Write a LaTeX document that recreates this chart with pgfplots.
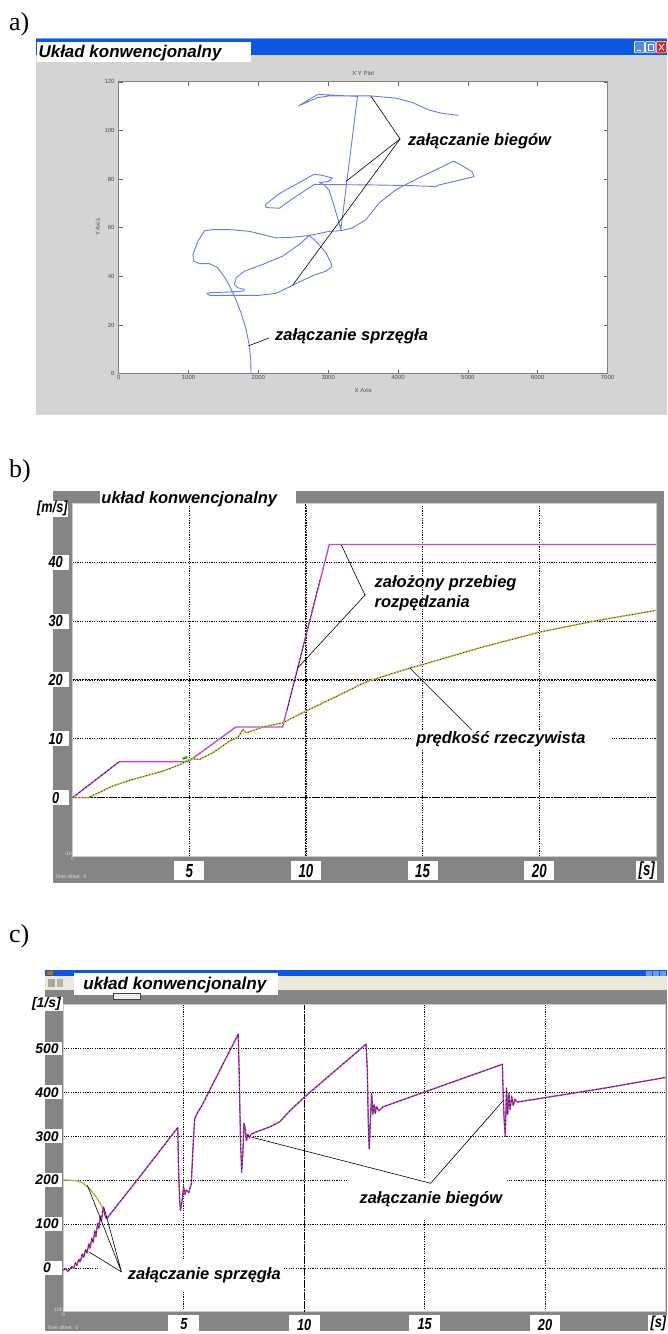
\documentclass[border=0pt]{standalone}
\usepackage{fontspec}
\setmainfont{Liberation Serif}
\newfontfamily\ar{Liberation Sans}
\newfontfamily\arn{Liberation Sans}[FakeStretch=0.8]
\newfontfamily\arnn{Liberation Sans}[FakeStretch=0.7]
\usepackage{pgfplots}
\pgfplotsset{compat=1.18}
\definecolor{xpblue}{HTML}{0A58E4}
\definecolor{winA}{HTML}{D4D4D4}
\definecolor{frameG}{HTML}{858585}
\definecolor{mag}{HTML}{C04EC0}
\definecolor{magc}{HTML}{B83CB8}
\definecolor{oliv}{HTML}{C8C24A}
\definecolor{tbar}{HTML}{ECE9D8}
\definecolor{xyblue}{HTML}{6A78F4}
\newcommand{\lab}{\ar\bfseries\itshape\fontsize{16.5}{20}\selectfont}
\newcommand{\tinyf}{\ar\fontsize{5}{5}\selectfont}
\begin{document}
\begin{tikzpicture}
\begin{scope}[x=1pt,y=-1pt]
\path[use as bounding box, fill=white] (0,0) rectangle (669,1334);
% panel a window
\fill[winA] (36,55) rectangle (669,416);
\fill[xpblue] (36,38) rectangle (669,55);
\fill[xpblue!55!white] (36,38) rectangle (669,39.5);
% panel b frame
\fill[frameG] (53,491.7) rectangle (666,885);
% panel c window
\fill[xpblue] (45,972.5) rectangle (669,978.3);
\fill[tbar] (45,978.3) rectangle (669,992);
\fill[frameG] (45,992) rectangle (669,1334);
\end{scope}

% ---------------- panel a ----------------
\begin{axis}[at={(119pt,-374.5pt)}, anchor=south west, scale only axis,
  width=490pt, height=292.5pt,
  xmin=0, xmax=7000, ymin=0, ymax=120,
  xtick={0,1000,...,7000}, ytick={0,20,...,120},
  scaled ticks=false, /pgf/number format/1000 sep={},
  /pgf/number format/assume math mode=true,
  axis background/.style={fill=white},
  axis line style={gray, line width=0.8pt},
  tick style={gray!80!black, line width=0.5pt}, major tick length=4pt, tick align=inside,
  tick label style={font=\ar\fontsize{6}{6}\selectfont, text=gray!60!black, inner sep=1pt},
  yticklabel style={xshift=-3pt}, xticklabel style={yshift=-1pt},
  clip=false]
\addplot[xyblue, line width=0.9pt, line join=round] coordinates {
(1895,0)(1890,6)(1871,11.4)(1824,18.2)(1752,25)(1657,31.9)(1538,38.7)(1419,43.5)
(1300,45.2)(1157,45.2)(1076,46.2)(1062,49)(1133,54.4)(1229,58.8)(1347,59.2)(1586,59.2)
(1871,58.5)(2062,57.2)(2252,55.8)(2490,56.1)(2729,56.8)(2824,54.4)(2967,49.7)(3038,45.6)
(3052,44)(2967,42.1)(2824,40.8)(2657,38.7)(2490,36.3)(2252,33)(2014,32.2)(1633,32.2)
(1300,32.2)(1262,33)(1324,33.3)(1538,33.5)(1776,33.9)(1800,34.6)(1704,35.3)(1657,36.7)
(1681,39.4)(1800,42.1)(2062,44.9)(2347,48.3)(2586,53.1)(2729,56.8)(3014,58.5)(3181,58.8)
(3347,59.9)(3538,63.3)(3729,70.1)(3967,75.6)(4300,80.5)(4800,87.4)(5062,83)(5086,81)
(4800,79)(4586,77.6)(4538,76.9)(4200,77.3)(3600,77.6)(2800,77.8)(2467,71.5)(2300,68)
(2110,68.3)(2100,69.5)(2300,74)(2800,82)(2919,81.5)(3062,80.4)(3000,79)(2871,78.6)
(2943,77.6)(3014,75.4)(3086,68.7)(3157,61.9)(3181,59.2)(3419,114)(3014,114.6)(2848,114.8)
(2576,110.1)(2848,113.5)(3014,114.2)(3610,114.2)(3967,113.3)(4205,111.5)(4443,108.4)
(4633,107)(4862,106.2)};
\draw[black, line width=0.6pt] (axis cs:3610,114.2) -- (axis cs:4029,96.5) -- (axis cs:3252,79);
\draw[black, line width=0.6pt] (axis cs:4029,96.5) -- (axis cs:2490,36.3);
\draw[black, line width=0.6pt] (axis cs:1857,11.4) -- (axis cs:2148,14.6);
\node[anchor=west, inner sep=0pt, font=\lab] at (axis cs:4143,95.4) {załączanie biegów};
\node[anchor=west, inner sep=0pt, font=\lab] at (axis cs:2237,15.5) {załączanie sprzęgła};
\end{axis}

% ---------------- panel b ----------------
\begin{axis}[at={(72.8pt,-858.5pt)}, anchor=south west, scale only axis,
  width=584.7pt, height=354pt,
  xmin=0, xmax=25, ymin=-10, ymax=50,
  xtick={5,10,15,20}, ytick={0,10,20,30,40},
  grid=major, major grid style={black, line width=0.7pt, dash pattern=on 1.2pt off 1.2pt},
  axis background/.style={fill=white},
  axis line style={gray!40, line width=0.8pt},
  tick style={draw=none},
  /pgf/number format/assume math mode=true,
  yticklabel style={font=\arn\bfseries\itshape\fontsize{16}{16}\selectfont, fill=white,
     inner sep=0pt, minimum width=26pt, minimum height=15pt, anchor=east, xshift=-3.8pt},
  xticklabel style={font=\arnn\bfseries\itshape\fontsize{19}{19}\selectfont, fill=white,
     inner sep=0pt, minimum width=30pt, minimum height=19pt, anchor=north, yshift=-4.5pt},
  clip=false]
\draw[black, line width=1.1pt, dash pattern=on 2pt off 1pt] (axis cs:10,-10) -- (axis cs:10,50);
\draw[black, line width=1.1pt, dash pattern=on 2pt off 1pt] (axis cs:0,0) -- (axis cs:25,0);
\draw[black, line width=1.1pt, dash pattern=on 2pt off 1pt] (axis cs:0,20) -- (axis cs:25,20);
\fill[white] (axis cs:14.6,8.1) rectangle (axis cs:23.12,11.3);
\addplot[mag, line width=1.4pt, line join=round] coordinates {
(0,0)(2,6.1)(4.95,6.1)(7,12)(9,12)(11,43)(25,43)};
\addplot[black, line width=0.5pt, dash pattern=on 2pt off 2pt] coordinates {(0,0)(2,6.1)};
\addplot[black, line width=0.5pt, dash pattern=on 2pt off 2pt] coordinates {(9.2,15)(10.6,37)};
\addplot[oliv, line width=1.5pt, line join=round] coordinates {
(0,0)(0.66,0)(1.0,0.6)(1.73,2.0)(2.5,3.0)(3.87,4.5)(4.6,5.6)(4.87,6.2)(5.1,6.6)(5.45,6.5)
(6.0,7.6)(6.73,9.6)(7.1,10.3)(7.3,11.6)(7.45,11.0)(8.16,12.0)(9.0,12.7)(10.0,14.7)
(11.0,16.6)(12.6,19.7)(14.45,22.0)(15,22.6)(17.5,25.5)(20,28.1)(22.5,30.1)(25,31.8)};
\addplot[black!85, line width=0.7pt, dash pattern=on 1pt off 2pt] coordinates {
(0,0)(0.66,0)(1.0,0.6)(1.73,2.0)(2.5,3.0)(3.87,4.5)(4.6,5.6)(4.87,6.2)(5.1,6.6)(5.45,6.5)
(6.0,7.6)(6.73,9.6)(7.1,10.3)(7.3,11.6)(7.45,11.0)(8.16,12.0)(9.0,12.7)(10.0,14.7)
(11.0,16.6)(12.6,19.7)(14.45,22.0)(15,22.6)(17.5,25.5)(20,28.1)(22.5,30.1)(25,31.8)};
\addplot[green!75!black, line width=2.2pt] coordinates {(4.72,6.6)(4.92,6.9)};
\draw[black, line width=0.6pt] (axis cs:11.52,42.9) -- (axis cs:12.53,34.4) -- (axis cs:9.64,22.0);
\draw[black, line width=0.6pt] (axis cs:17.1,11.5) -- (axis cs:14.45,22.0);
\node[anchor=west, inner sep=0pt, align=left, font=\lab] at (axis cs:12.94,34.7) {założony przebieg\\rozpędzania};
\node[anchor=west, inner sep=0pt, font=\lab] at (axis cs:14.72,9.86) {prędkość rzeczywista};
\node[anchor=south east, inner sep=0.5pt, font=\tinyf, text=gray!25] at (axis cs:0,-10) {-10};
\node[anchor=north, inner sep=0.5pt, font=\tinyf, text=gray!25] at (axis cs:0,-10) {0};
\end{axis}

% ---------------- panel c ----------------
\begin{axis}[at={(63.6pt,-1315pt)}, anchor=south west, scale only axis,
  width=603.4pt, height=308pt,
  xmin=0, xmax=25, ymin=-100, ymax=600,
  xtick={5,10,15,20}, ytick={0,100,...,500},
  grid=major, major grid style={black, line width=0.7pt, dash pattern=on 1.2pt off 1.2pt},
  axis background/.style={fill=white},
  axis line style={gray!40, line width=0.8pt},
  tick style={draw=none},
  /pgf/number format/assume math mode=true,
  yticklabel style={font=\ar\bfseries\itshape\fontsize{14}{14}\selectfont, fill=white,
     inner sep=0pt, minimum width=31pt, minimum height=14pt, anchor=east, xshift=-0.8pt},
  xticklabel style={font=\arn\bfseries\itshape\fontsize{16}{16}\selectfont, fill=white,
     inner sep=0pt, minimum width=31pt, minimum height=19pt, anchor=north, yshift=-3pt},
  clip=false]
\draw[black, line width=1.1pt, dash pattern=on 2pt off 1pt] (axis cs:10,-100) -- (axis cs:10,600);
\fill[white] (axis cs:11.79,111.4) rectangle (axis cs:18.42,204.5);
\fill[white] (axis cs:1.43,-52.3) rectangle (axis cs:9.18,20.5);
\addplot[oliv!90!black, line width=1.3pt] coordinates {
(0,200.7)(0.54,199)(0.82,193)(1.09,180)(1.37,161)(1.58,142)(1.65,135)};
\addplot[magc, line width=1.4pt, line join=round] coordinates {
(0,-5)(0.1,-1)(0.18,-8)(0.27,-2)(0.35,3)(0.42,-1)(0.5,12)(0.56,6)(0.64,20)(0.7,14)
(0.78,32)(0.84,24)(0.92,42)(0.98,34)(1.05,55)(1.1,45)(1.18,68)(1.23,58)(1.3,85)(1.35,72)
(1.42,102)(1.47,90)(1.53,118)(1.58,108)(1.63,130)(1.67,139)(1.72,120)(1.79,112)
(3.2,210)(4.75,320)(4.77,250)(4.82,160)(4.86,131)(4.92,150)(4.99,184)(5.05,168)
(5.10,177)(5.21,172)(5.31,192)(5.38,275)(5.45,340)(5.55,352)(5.75,370)(7.26,533)(7.30,440)
(7.35,300)(7.4,218)(7.45,260)(7.5,330)(7.55,318)(7.6,290)(7.66,305)(7.72,296)(7.8,305)
(7.96,309)(8.6,322)(9.0,334)(9.4,358)(10.0,389)(12.57,510)(12.62,450)(12.66,330)(12.7,271)(12.75,340)
(12.8,398)(12.85,350)(12.9,372)(12.95,352)(13.0,368)(13.1,358)(13.27,367)(15.0,401)
(18.23,464)(18.26,400)(18.3,340)(18.35,300)(18.4,410)(18.45,350)(18.5,398)(18.55,362)
(18.62,390)(18.68,370)(18.75,384)(18.85,378)(20.0,388)(22.5,410)(25.0,434)};
\addplot[black!85, line width=0.7pt, dash pattern=on 1.5pt off 2.5pt] coordinates {
(0,-5)(0.1,-1)(0.18,-8)(0.27,-2)(0.35,3)(0.42,-1)(0.5,12)(0.56,6)(0.64,20)(0.7,14)
(0.78,32)(0.84,24)(0.92,42)(0.98,34)(1.05,55)(1.1,45)(1.18,68)(1.23,58)(1.3,85)(1.35,72)
(1.42,102)(1.47,90)(1.53,118)(1.58,108)(1.63,130)(1.67,139)(1.72,120)(1.79,112)
(3.2,210)(4.75,320)(4.77,250)(4.82,160)(4.86,131)(4.92,150)(4.99,184)(5.05,168)
(5.10,177)(5.21,172)(5.31,192)(5.38,275)(5.45,340)(5.55,352)(5.75,370)(7.26,533)(7.30,440)
(7.35,300)(7.4,218)(7.45,260)(7.5,330)(7.55,318)(7.6,290)(7.66,305)(7.72,296)(7.8,305)
(7.96,309)(8.6,322)(9.0,334)(9.4,358)(10.0,389)(12.57,510)(12.62,450)(12.66,330)(12.7,271)(12.75,340)
(12.8,398)(12.85,350)(12.9,372)(12.95,352)(13.0,368)(13.1,358)(13.27,367)(15.0,401)
(18.23,464)(18.26,400)(18.3,340)(18.35,300)(18.4,410)(18.45,350)(18.5,398)(18.55,362)
(18.62,390)(18.68,370)(18.75,384)(18.85,378)(20.0,388)(22.5,410)(25.0,434)};
\draw[black, line width=0.6pt] (axis cs:7.81,298) -- (axis cs:15.25,193) -- (axis cs:18.26,381);
\draw[black, line width=0.6pt] (axis cs:0.99,189) -- (axis cs:2.41,-9) -- (axis cs:1.70,135);
\draw[black, line width=0.6pt] (axis cs:1.08,36) -- (axis cs:2.41,-9);
\node[inner sep=0pt, font=\lab] at (axis cs:15.26,157.5) {załączanie biegów};
\node[anchor=west, inner sep=0pt, font=\lab] at (axis cs:2.67,-15.9) {załączanie sprzęgła};
\node[anchor=south east, inner sep=0.5pt, font=\tinyf, text=gray!25] at (axis cs:0,-100) {-100};
\node[anchor=north, inner sep=0.5pt, font=\tinyf, text=gray!25] at (axis cs:0,-100) {0};
\end{axis}

% ---------------- overlays ----------------
\begin{scope}[x=1pt,y=-1pt]
% letters
\node[anchor=west, inner sep=0pt, font=\fontsize{26}{26}\selectfont] at (9,24) {a)};
\node[anchor=west, inner sep=0pt, font=\fontsize{26}{26}\selectfont] at (9,472) {b)};
\node[anchor=west, inner sep=0pt, font=\fontsize{26}{26}\selectfont] at (9,938) {c)};
% panel a title
\fill[white] (37,42) rectangle (252,62);
\node[anchor=base west, inner sep=0pt, font=\ar\bfseries\itshape\fontsize{17}{17}\selectfont] at (38.5,58) {Układ konwencjonalny};
\foreach \bx/\bc in {636/xpblue!70!white, 647/xpblue!70!white, 658/red!80!orange} {
  \filldraw[fill=\bc, draw=white, line width=0.6pt, rounded corners=1pt] (\bx,41.5) rectangle (\bx+10,53);
}
\draw[white, line width=1pt] (660.5,44) -- (665.5,50.5) (665.5,44) -- (660.5,50.5);
\draw[white, line width=1pt] (638.5,50.5) -- (642.5,50.5);
\draw[white, line width=0.7pt] (649.5,44.5) rectangle (654.5,50);
\node[font=\ar\fontsize{6}{6}\selectfont, text=gray!60!black] at (364,74) {X Y Plot};
\node[font=\ar\fontsize{6}{6}\selectfont, text=gray!60!black] at (364,391) {X Axis};
\node[font=\ar\fontsize{6}{6}\selectfont, text=gray!60!black, rotate=90] at (98,228) {Y Axis};
% panel b
\fill[white] (100,491.7) rectangle (297,505);
\node[anchor=base west, inner sep=0pt, font=\ar\bfseries\itshape\fontsize{16.5}{16.5}\selectfont] at (101.5,505) {układ konwencjonalny};
\fill[white] (37,502) rectangle (68.5,518.5);
\node[inner sep=0pt, font=\arn\bfseries\itshape\fontsize{16}{16}\selectfont] at (52.5,510) {[m/s]};
\fill[white] (637.6,863) rectangle (659,882);
\node[inner sep=0pt, font=\arnn\bfseries\itshape\fontsize{19}{19}\selectfont] at (648.3,872.5) {[s]};
\node[anchor=west, inner sep=0pt, font=\tinyf, text=gray!25] at (55,879) {Time offset:\ \ 0};
% panel c
\fill[white] (74,975) rectangle (279,997);
\node[anchor=base west, inner sep=0pt, font=\ar\bfseries\itshape\fontsize{17.2}{17.2}\selectfont] at (83.3,992) {układ konwencjonalny};
\fill[orange!80!black] (47,973.5) rectangle (53,977.5);
\fill[gray!70] (48,981) rectangle (55,989);
\fill[gray!60] (57,981) rectangle (63,989);
\filldraw[fill=gray!15, draw=gray!50!black, line width=0.3pt] (113,995.5) rectangle (140,1001.5);
\foreach \bx in {648,655,662} { \fill[xpblue!60!white] (\bx,973) rectangle (\bx+6,978); }
\fill[white] (30,999) rectangle (63,1013.5);
\node[inner sep=0pt, font=\ar\bfseries\itshape\fontsize{14}{14}\selectfont] at (46.5,1006) {[1/s]};
\fill[white] (650,1318) rectangle (669,1334);
\node[inner sep=0pt, font=\arn\bfseries\itshape\fontsize{16}{16}\selectfont] at (660,1327) {[s]};
\node[anchor=west, inner sep=0pt, font=\tinyf, text=gray!25] at (47,1331) {Time offset:\ \ 0};
\end{scope}
\end{tikzpicture}
\end{document}
